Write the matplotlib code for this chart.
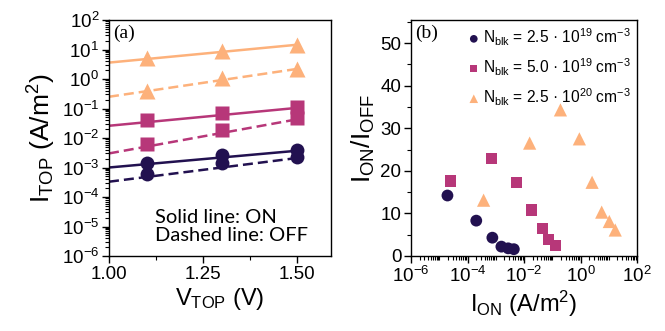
import numpy as np
import matplotlib
matplotlib.use('Agg')
import matplotlib.pyplot as plt

plt.rcParams['font.family'] = ['Liberation Sans', 'DejaVu Sans']
plt.rcParams['mathtext.default'] = 'regular'

# colours of the three doping levels
colors = ['#221150', '#b73779', '#fdb17b']
markers = ['o', 's', '^']
doping = ['2.5 · 10$^{19}$', '5.0 · 10$^{19}$', '2.5 · 10$^{20}$']

# (a) current vs top voltage
v_top = [1.1, 1.3, 1.5]
i_on = [[1.4e-3, 2.6e-3, 3.9e-3],
        [0.040, 0.069, 0.115],
        [5.0, 9.1, 14.4]]
i_off = [[6.2e-4, 1.4e-3, 2.2e-3],
         [0.0063, 0.018, 0.047],
         [0.40, 1.08, 2.2]]
# fitted lines, read at V = 1.0 and V = 1.5
fit_v = [1.0, 1.5]
fit_on = [[1.0e-3, 3.7e-3], [0.026, 0.105], [3.6, 14.5]]
fit_off = [[3.3e-4, 2.1e-3], [0.0030, 0.043], [0.25, 2.2]]

# (b) on/off ratio vs on current
ion_b = [[10**-4.71, 10**-3.69, 10**-3.12, 10**-2.80, 10**-2.56, 10**-2.36],
         [10**-4.59, 10**-3.16, 10**-2.28, 10**-1.73, 10**-1.35, 10**-1.12, 10**-0.90],
         [10**-3.43, 10**-1.80, 10**-0.71, 10**-0.04, 10**0.41, 10**0.75, 10**1.02, 10**1.23]]
ratio_b = [[14.2, 8.3, 4.3, 2.2, 1.8, 1.6],
           [17.6, 22.8, 17.3, 10.8, 6.5, 3.9, 2.4],
           [13.1, 26.5, 34.3, 27.5, 17.3, 10.3, 8.1, 6.1]]

ms_a = [10, 10, 11]
ms_b = [8.5, 8.0, 9.5]

fig = plt.figure(figsize=(6.65, 3.31), dpi=100)
ax1 = fig.add_axes([109/665, 1-256/331, 222/665, 236/331])
ax2 = fig.add_axes([411/665, 1-256/331, 226/665, 236/331])

for k in range(3):
    ax1.plot(fit_v, fit_on[k], color=colors[k], lw=1.8, solid_capstyle='butt')
    ax1.plot(fit_v, fit_off[k], color=colors[k], lw=1.8, ls=(0, (4, 2)))
    ax1.plot(v_top, i_on[k], ls='none', marker=markers[k], ms=ms_a[k],
             color=colors[k], mec='none')
    ax1.plot(v_top, i_off[k], ls='none', marker=markers[k], ms=ms_a[k],
             color=colors[k], mec='none')

ax1.set_yscale('log')
ax1.set_ylim(1e-6, 1e2)
ax1.set_xlim(1.0, 1.59)
ax1.set_xticks([1.0, 1.25, 1.5])
ax1.set_xticks([1.125, 1.375], minor=True)
ax1.set_xticklabels(['1.00', '1.25', '1.50'])
ax1.set_yticks([10.0**e for e in range(-6, 3)])
ax1.yaxis.set_minor_locator(matplotlib.ticker.LogLocator(base=10, subs=np.arange(2, 10), numticks=20))
ax1.yaxis.set_minor_formatter(matplotlib.ticker.NullFormatter())
ax1.set_xlabel('V$_{TOP}$ (V)', fontsize=17, labelpad=2)
ax1.set_ylabel('I$_{TOP}$ (A/m$^2$)', fontsize=19, labelpad=3)
ax1.text(0.02, 0.98, '(a)', transform=ax1.transAxes, ha='left', va='top',
         fontsize=14, family='Liberation Serif')
ax1.text(0.205, 0.125, 'Solid line: ON\nDashed line: OFF', transform=ax1.transAxes,
         ha='left', va='center', fontsize=14.5, family='Lato', linespacing=1.1)

for k in range(3):
    ax2.scatter(ion_b[k], ratio_b[k], s=ms_b[k]**2,
                marker=markers[k], color=colors[k], edgecolors='none',
                label='N$_{blk}$ = ' + doping[k] + ' cm$^{-3}$')

ax2.set_xscale('log')
ax2.set_xlim(1e-6, 1e2)
ax2.set_ylim(0, 55.4)
ax2.set_xticks([10.0**e for e in range(-6, 3, 2)])
ax2.xaxis.set_minor_locator(matplotlib.ticker.LogLocator(base=10, subs=np.arange(1, 10), numticks=20))
ax2.xaxis.set_minor_formatter(matplotlib.ticker.NullFormatter())
ax2.set_yticks([0, 10, 20, 30, 40, 50])
ax2.set_yticks([5, 15, 25, 35, 45, 55], minor=True)
ax2.set_xlabel('I$_{ON}$ (A/m$^2$)', fontsize=17, labelpad=2)
ax2.set_ylabel('I$_{ON}$/I$_{OFF}$', fontsize=19, labelpad=2)
ax2.text(0.02, 0.98, '(b)', transform=ax2.transAxes, ha='left', va='top',
         fontsize=14, family='Liberation Serif')
ax2.legend(loc='upper right', frameon=False, fontsize=11.2, markerscale=0.65,
           handletextpad=0.1, handlelength=1.0, labelspacing=0.55,
           borderaxespad=0.1, borderpad=0.3)

for ax in (ax1, ax2):
    ax.tick_params(which='major', labelsize=13.5, length=5, width=1.0, pad=2)
    ax.tick_params(which='minor', length=3, width=0.8)
    for s in ax.spines.values():
        s.set_linewidth(1.0)

fig.savefig('out.png', dpi=100)
